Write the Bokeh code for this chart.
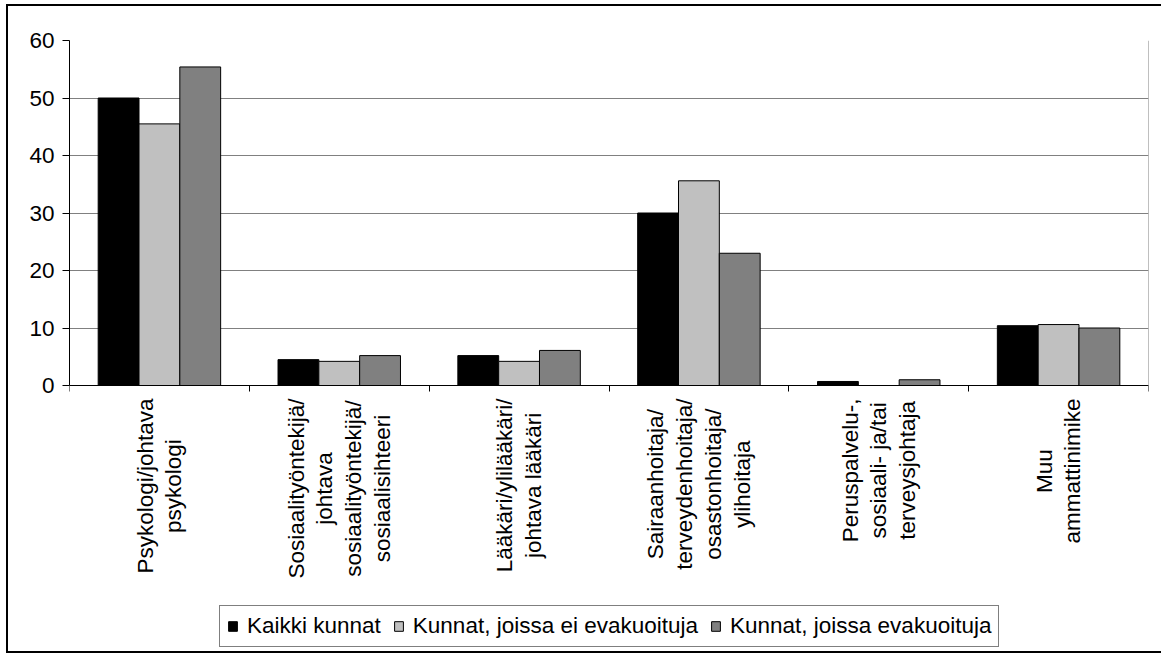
import math
from bokeh.plotting import figure
from bokeh.models import ColumnDataSource, FixedTicker, Legend, LegendItem, Range1d
from bokeh.transform import dodge
from bokeh.core.properties import value
from bokeh.embed import file_html
from bokeh.resources import INLINE

# ---- data ----
categories = [
    "Psykologi/johtava\npsykologi",
    "Sosiaalityöntekijä/\njohtava\nsosiaalityöntekijä/\nsosiaalisihteeri",
    "Lääkäri/ylilääkäri/\njohtava lääkäri",
    "Sairaanhoitaja/\nterveydenhoitaja/\nosastonhoitaja/\nylihoitaja",
    "Peruspalvelu-,\nsosiaali- ja/tai\nterveysjohtaja",
    "Muu\nammattinimike",
]
kaikki_kunnat = [50.0, 4.5, 5.2, 30.0, 0.7, 10.4]
ei_evakuoituja = [45.5, 4.2, 4.2, 35.6, 0.0, 10.6]
evakuoituja = [55.4, 5.2, 6.1, 23.0, 1.0, 10.0]
series_names = ["Kaikki kunnat", "Kunnat, joissa ei evakuoituja", "Kunnat, joissa evakuoituja"]
series_colors = ["#000000", "#C0C0C0", "#808080"]
y_ticks = [0, 10, 20, 30, 40, 50, 60]

# ---- layout constants ----
FONT = "Liberation Sans"
FS = 22.5
CANVAS_W, CANVAS_H = 1153, 645
BORDER_L, BORDER_T, BORDER_R = 61, 34, 13
PLOT_H = 345                       # pixels from 0 to 60
PX_PER_UNIT = PLOT_H / y_ticks[-1]
BELOW = CANVAS_H - BORDER_T - PLOT_H  # pixels below the zero line inside frame
y_bottom = -BELOW / PX_PER_UNIT

# Arial / Liberation Sans advance widths (per 1000 em) for label centring
ARIAL = {"a": 556, "ä": 556, "c": 500, "d": 556, "e": 556, "g": 556, "h": 556, "i": 222,
         "j": 222, "k": 500, "l": 222, "m": 833, "n": 556, "o": 556, "ö": 556, "p": 556,
         "r": 333, "s": 500, "t": 278, "u": 556, "v": 500, "y": 500, "/": 278, "-": 333,
         ",": 278, " ": 278, "P": 667, "S": 667, "L": 556, "M": 833}


def text_w(s):
    return sum(ARIAL.get(ch, 556) for ch in s) / 1000 * FS


n = len(categories)
centers = [i + 0.5 for i in range(n)]
bounds = list(range(n + 1))
label_off = [13 + max(text_w(line) for line in c.split("\n")) / 2 for c in categories]

src = ColumnDataSource(dict(xc=centers, a=kaikki_kunnat, b=ei_evakuoituja, c=evakuoituja,
                            lab=categories, yoff=label_off, zero=[0] * n))

p = figure(width=CANVAS_W, height=CANVAS_H,
           x_range=Range1d(0, n), y_range=Range1d(y_bottom, y_ticks[-1]),
           x_axis_location="above",
           output_backend="svg", toolbar_location=None,
           min_border_left=BORDER_L, min_border_right=BORDER_R,
           min_border_top=BORDER_T, min_border_bottom=0)
p.styles = {"margin-left": "8px", "margin-top": "6px",
            "box-shadow": ("-2px 0 0 0 black, 0 -2px 0 0 black, -2px -2px 0 0 black, "
                           "0 2px 0 0 black, -2px 2px 0 0 black")}
p.outline_line_color = None
p.border_fill_color = "white"

w = 0.227
renderers = []
for col, off, color in zip(["a", "b", "c"], [-w, 0, w], series_colors):
    r = p.vbar(x=dodge("xc", off), top=col, width=w, source=src,
               fill_color=color, line_color="black", line_width=1)
    renderers.append(r)

# plot-area right border
p.line(x=[n, n], y=[y_ticks[0], y_ticks[-1]], line_color="#808080", line_width=1)

# category labels (rotated, centred lines, block top under the axis)
p.text(x="xc", y="zero", text="lab", source=src, angle=math.pi / 2,
       y_offset="yoff", text_align="center", text_baseline="middle",
       text_font=value(FONT), text_font_size=f"{FS}px", text_color="black",
       text_line_height=1.15)

# x axis drawn at zero, ticks at category boundaries
xa = p.xaxis[0]
xa.fixed_location = 0
xa.ticker = FixedTicker(ticks=bounds)
xa.major_label_overrides = {b: "" for b in bounds}
xa.major_label_text_font_size = "0px"
xa.major_label_standoff = 0
xa.major_tick_in = 6
xa.major_tick_out = 0
xa.minor_tick_line_color = None
xa.major_tick_line_color = "black"
xa.axis_line_color = "black"

ya = p.yaxis[0]
ya.ticker = FixedTicker(ticks=y_ticks)
ya.bounds = (y_ticks[0], y_ticks[-1])
ya.major_tick_out = 7
ya.major_tick_in = 0
ya.minor_tick_line_color = None
ya.axis_line_color = "black"
ya.major_tick_line_color = "black"
ya.major_label_text_font = FONT
ya.major_label_text_font_size = f"{FS}px"
ya.major_label_text_color = "black"
ya.major_label_standoff = 8

p.xgrid.visible = False
p.ygrid.ticker = FixedTicker(ticks=y_ticks)
p.ygrid.grid_line_color = "#808080"
p.ygrid.grid_line_width = 1

legend = Legend(items=[LegendItem(label=nm, renderers=[r]) for nm, r in zip(series_names, renderers)],
                orientation="horizontal", location=(150, 4))
legend.label_text_font = FONT
legend.label_text_font_size = f"{FS}px"
legend.label_text_color = "black"
legend.glyph_width = 11
legend.glyph_height = 12
legend.label_standoff = 9
legend.spacing = 12
legend.padding = 7
legend.margin = 0
legend.border_line_color = "black"
legend.border_line_width = 1
legend.background_fill_color = "white"
legend.background_fill_alpha = 1
p.add_layout(legend)

open("out.html", "w").write(file_html(p, INLINE))
